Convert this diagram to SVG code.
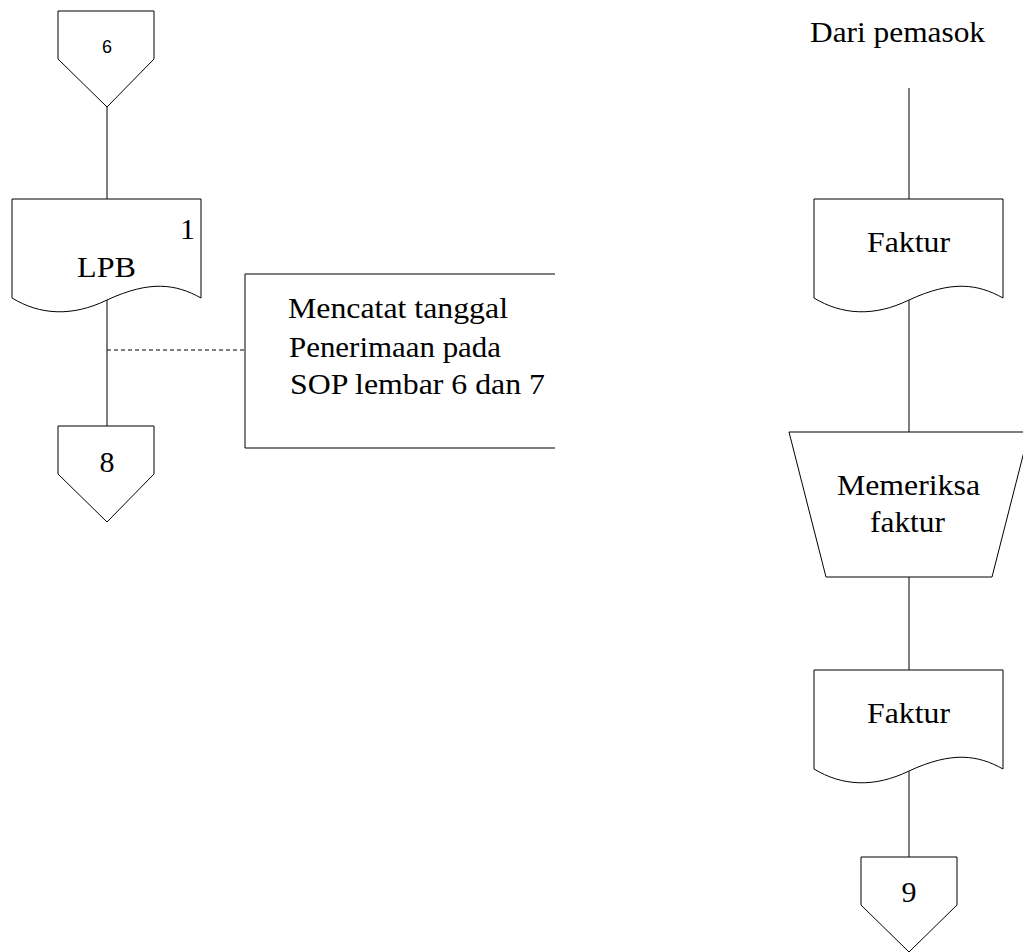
<svg xmlns="http://www.w3.org/2000/svg" width="1023" height="952" viewBox="0 0 1023 952">
  <defs>
    <style>
      .shape { fill: #ffffff; stroke: #000000; stroke-width: 1; }
      .open { fill: none; stroke: #000000; stroke-width: 1; }
      .link { fill: none; stroke: #000000; stroke-width: 1; }
      .dash { fill: none; stroke: #000000; stroke-width: 1; stroke-dasharray: 4 3; }
      .lbl { font-family: 'Liberation Serif', 'DejaVu Serif', serif; font-size: 30px; fill: #000000; }
      .mid { text-anchor: middle; }
      .sans { font-family: 'Liberation Sans', 'DejaVu Sans', sans-serif; font-size: 18px; fill: #000000; text-anchor: middle; }
    </style>
  </defs>
  <rect x="0" y="0" width="1023" height="952" fill="#ffffff"/>

  <!-- connectors -->
  <g id="connectors">
    <line class="link" x1="107" y1="107" x2="107" y2="199"/>
    <line class="link" x1="107" y1="300" x2="107" y2="426"/>
    <line class="dash" x1="107" y1="350" x2="245" y2="350"/>
    <line class="link" x1="909" y1="88" x2="909" y2="199"/>
    <line class="link" x1="909" y1="300" x2="909" y2="432"/>
    <line class="link" x1="909" y1="577" x2="909" y2="670"/>
    <line class="link" x1="909" y1="771" x2="909" y2="857"/>
  </g>

  <!-- left column -->
  <g id="conn-6">
    <polygon class="shape" points="58,11 154,11 154,59 107,107 58,59"/>
    <text class="sans" x="107" y="53">6</text>
  </g>

  <g id="doc-lpb">
    <path class="shape" d="M12,199 H201 V298 C176,284 150,280 107,300 C72,317 40,315 12,298 Z"/>
    <text class="lbl" x="180" y="239" font-family="Liberation Serif, DejaVu Serif, serif">1</text>
    <text class="lbl" x="77" y="277" textLength="59" lengthAdjust="spacingAndGlyphs" font-family="Liberation Serif, DejaVu Serif, serif">LPB</text>
  </g>

  <g id="note-penerimaan">
    <path class="open" d="M555,274 H245 V448 H555"/>
    <text class="lbl" x="288" y="318" textLength="220" lengthAdjust="spacingAndGlyphs">Mencatat tanggal</text>
    <text class="lbl" x="289" y="357" textLength="212" lengthAdjust="spacingAndGlyphs">Penerimaan pada</text>
    <text class="lbl" x="290" y="394" textLength="255" lengthAdjust="spacingAndGlyphs">SOP lembar 6 dan 7</text>
  </g>

  <g id="conn-8">
    <polygon class="shape" points="58,426 154,426 154,474 107,522 58,474"/>
    <text class="lbl mid" x="107" y="472">8</text>
  </g>

  <!-- right column -->
  <g id="start-pemasok">
    <text class="lbl" x="810" y="42" textLength="175" lengthAdjust="spacingAndGlyphs">Dari pemasok</text>
  </g>

  <g id="doc-faktur-1">
    <path class="shape" d="M814,199 H1003 V298 C978,284 952,280 909,300 C874,317 842,315 814,298 Z"/>
    <text class="lbl" x="867" y="252" textLength="83" lengthAdjust="spacingAndGlyphs">Faktur</text>
  </g>

  <g id="proc-memeriksa">
    <polygon class="shape" points="789,432 1029,432 992,577 826,577"/>
    <text class="lbl" x="837" y="495" textLength="143" lengthAdjust="spacingAndGlyphs">Memeriksa</text>
    <text class="lbl" x="870" y="532" textLength="75" lengthAdjust="spacingAndGlyphs">faktur</text>
  </g>

  <g id="doc-faktur-2">
    <path class="shape" d="M814,670 H1003 V769 C978,755 952,751 909,771 C874,788 842,786 814,769 Z"/>
    <text class="lbl" x="867" y="723" textLength="83" lengthAdjust="spacingAndGlyphs">Faktur</text>
  </g>

  <g id="conn-9">
    <polygon class="shape" points="861,857 957,857 957,905 909,952 861,905"/>
    <text class="lbl mid" x="909" y="902">9</text>
  </g>
</svg>
